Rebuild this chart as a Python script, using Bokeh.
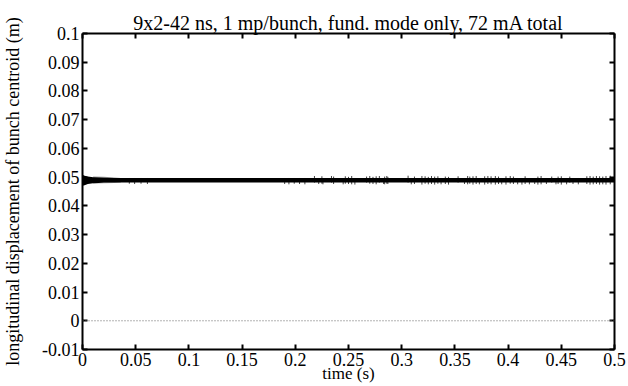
from bokeh.plotting import figure
from bokeh.models import LinearAxis, FixedTicker, Range1d, Span
from bokeh.embed import file_html
from bokeh.resources import INLINE

# ---- data ----
x_ticks = [0, 0.05, 0.1, 0.15, 0.2, 0.25, 0.3, 0.35, 0.4, 0.45, 0.5]
x_tick_labels = ["0", "0.05", "0.1", "0.15", "0.2", "0.25", "0.3", "0.35", "0.4", "0.45", "0.5"]
y_ticks = [-0.01, 0, 0.01, 0.02, 0.03, 0.04, 0.05, 0.06, 0.07, 0.08, 0.09, 0.1]
y_tick_labels = ["-0.01", "0", "0.01", "0.02", "0.03", "0.04", "0.05", "0.06", "0.07", "0.08", "0.09", "0.1"]

# envelope of the bunch-centroid trace (time in s, displacement in m)
env_t = [0.0, 0.002, 0.005, 0.01, 0.015, 0.02, 0.03, 0.04, 0.5]
env_hi = [0.0508, 0.0505, 0.0502, 0.0500, 0.0499, 0.0498, 0.0497, 0.0497, 0.0497]
env_lo = [0.0470, 0.0472, 0.0476, 0.0479, 0.0480, 0.0481, 0.0481, 0.0481, 0.0481]

# lighter decaying oscillation at the start
tr_t = [0.01, 0.02, 0.03, 0.036]
tr_hi = [0.0502, 0.0501, 0.0499, 0.0497]
tr_lo = [0.0478, 0.0479, 0.0480, 0.0481]

# isolated spikes on the trace
spike_t = [0.044, 0.049, 0.055, 0.061,
           0.190, 0.194, 0.199, 0.204, 0.209, 0.218, 0.222, 0.225, 0.226, 0.234, 0.236,
           0.245, 0.247, 0.250, 0.253,
           0.256, 0.267, 0.270, 0.273, 0.276, 0.279, 0.283, 0.284, 0.286, 0.287, 0.306,
           0.309, 0.312, 0.319, 0.322, 0.325, 0.328, 0.331, 0.334, 0.337, 0.341, 0.344,
           0.353, 0.359, 0.362, 0.364, 0.367, 0.370, 0.373, 0.378, 0.381,
           0.384, 0.388, 0.391, 0.394, 0.398, 0.402, 0.405, 0.409, 0.413, 0.416, 0.420,
           0.425, 0.428, 0.431, 0.436, 0.441, 0.445, 0.447, 0.450, 0.455, 0.458, 0.461,
           0.466, 0.474, 0.477, 0.480, 0.483, 0.486, 0.489, 0.492, 0.496]
spike_hi = [0.0497, 0.0497, 0.0497, 0.0497,
            0.0497, 0.0497, 0.0497, 0.0497, 0.0497, 0.0504, 0.0497, 0.0503, 0.0497, 0.0504, 0.0502,
            0.0497, 0.0503, 0.0501, 0.0504,
            0.0497, 0.0502, 0.0504, 0.0501, 0.0503, 0.0504, 0.0497, 0.0502, 0.0504, 0.0501, 0.0505,
            0.0497, 0.0502, 0.0504, 0.0503, 0.0501, 0.0504, 0.0502, 0.0503, 0.0497, 0.0502, 0.0501,
            0.0503, 0.0497, 0.0504, 0.0502, 0.0503, 0.0504, 0.0497, 0.0503, 0.0504,
            0.0503, 0.0504, 0.0502, 0.0497, 0.0503, 0.0504, 0.0502, 0.0497, 0.0497, 0.0503, 0.0497,
            0.0497, 0.0502, 0.0504, 0.0497, 0.0502, 0.0497, 0.0502, 0.0503, 0.0497, 0.0502, 0.0497,
            0.0497, 0.0503, 0.0504, 0.0502, 0.0504, 0.0503, 0.0502, 0.0504, 0.0505]
spike_lo = [0.0477, 0.0476, 0.0477, 0.0476,
            0.0476, 0.0475, 0.0477, 0.0476, 0.0475, 0.0481, 0.0476, 0.0477, 0.0475, 0.0481, 0.0476,
            0.0475, 0.0477, 0.0476, 0.0475,
            0.0474, 0.0481, 0.0477, 0.0476, 0.0475, 0.0481, 0.0476, 0.0475, 0.0477, 0.0476, 0.0481,
            0.0475, 0.0476, 0.0474, 0.0477, 0.0475, 0.0476, 0.0474, 0.0477, 0.0475, 0.0476, 0.0474,
            0.0481, 0.0476, 0.0475, 0.0477, 0.0474, 0.0476, 0.0475, 0.0474, 0.0476,
            0.0475, 0.0474, 0.0476, 0.0475, 0.0474, 0.0477, 0.0476, 0.0475, 0.0474, 0.0476, 0.0475,
            0.0476, 0.0474, 0.0475, 0.0476, 0.0481, 0.0475, 0.0476, 0.0474, 0.0475, 0.0481, 0.0476,
            0.0475, 0.0476, 0.0474, 0.0475, 0.0476, 0.0474, 0.0475, 0.0474, 0.0475]

FONT = "'Liberation Serif', 'Times New Roman', serif"
FS = "18px"

p = figure(frame_width=532, frame_height=316,
           x_range=Range1d(0, 0.5), y_range=Range1d(-0.01, 0.1),
           output_backend="svg", toolbar_location=None,
           title="9x2-42 ns, 1 mp/bunch, fund. mode only, 72 mA total",
           min_border_left=81, min_border_right=15, min_border_top=33, min_border_bottom=37,
           background_fill_color="white", border_fill_color="white")
p.outline_line_color = None
p.xgrid.visible = False
p.ygrid.visible = False
p.xaxis.visible = False
p.yaxis.visible = False

p.title.align = "center"
p.title.text_font = FONT
p.title.text_font_size = "20px"
p.title.text_font_style = "normal"
p.title.text_color = "black"
p.title.offset = 0
p.title.standoff = 0


def style_axis(ax, ticks, labels, show_labels):
    ax.ticker = FixedTicker(ticks=ticks)
    ax.major_tick_in = 5
    ax.major_tick_out = 0
    ax.minor_tick_in = 0
    ax.minor_tick_out = 0
    ax.major_tick_line_width = 2
    ax.axis_line_width = 2
    ax.axis_line_color = "black"
    ax.major_tick_line_color = "black"
    ax.major_label_text_font = FONT
    ax.major_label_text_color = "black"
    ax.major_label_text_font_size = FS
    if show_labels:
        ax.major_label_overrides = dict(zip(ticks, labels))
        ax.major_label_standoff = 3
    else:
        ax.major_label_overrides = {t: "" for t in ticks}
        ax.major_label_standoff = 0


bottom = LinearAxis(axis_label="time (s)")
style_axis(bottom, x_ticks, x_tick_labels, True)
bottom.axis_label_text_font = FONT
bottom.axis_label_text_font_size = "17px"
bottom.axis_label_text_font_style = "normal"
bottom.axis_label_text_color = "black"
bottom.axis_label_standoff = -5

left = LinearAxis(axis_label="longitudinal displacement of bunch centroid (m)")
style_axis(left, y_ticks, y_tick_labels, True)
left.axis_label_text_font = FONT
left.axis_label_text_font_size = "18px"
left.axis_label_text_font_style = "normal"
left.axis_label_text_color = "black"
left.axis_label_standoff = 16

top = LinearAxis()
style_axis(top, x_ticks, x_tick_labels, False)
right = LinearAxis()
style_axis(right, y_ticks, y_tick_labels, False)

p.add_layout(bottom, "below")
p.add_layout(left, "left")
p.add_layout(top, "above")
p.add_layout(right, "right")

# zero reference line
p.add_layout(Span(location=0, dimension="width", line_color="#666666",
                  line_dash="1 2", line_width=1))

# trace
p.varea(x=tr_t, y1=tr_lo, y2=tr_hi, fill_color="#555555", fill_alpha=0.6)
p.varea(x=env_t, y1=env_lo, y2=env_hi, fill_color="black")
p.segment(x0=spike_t, y0=spike_lo, x1=spike_t, y1=spike_hi,
          line_color="black", line_width=1, line_alpha=0.75)

with open("out.html", "w") as f:
    f.write(file_html(p, INLINE))
